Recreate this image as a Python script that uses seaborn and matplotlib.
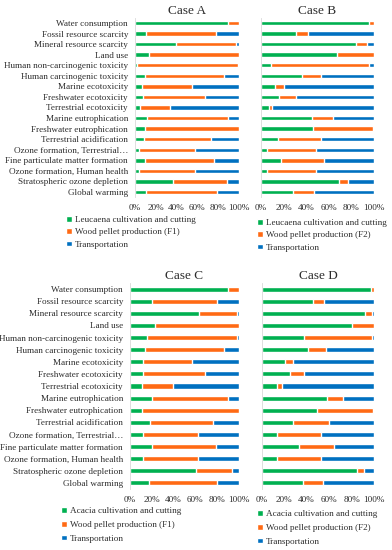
import matplotlib

matplotlib.use("Agg")

import matplotlib.pyplot as plt
import pandas as pd
import seaborn as sns
from matplotlib.patches import Patch


FIG_W, FIG_H = 392, 550
OUTPUT_PATH = "out.png"

GREEN = "#00B050"
ORANGE = "#FF6A14"
BLUE = "#0070C0"
TEXT_COLOR = "#2b2b2b"

CATEGORIES = [
    "Water consumption",
    "Fossil resource scarcity",
    "Mineral resource scarcity",
    "Land use",
    "Human non-carcinogenic toxicity",
    "Human carcinogenic toxicity",
    "Marine ecotoxicity",
    "Freshwater ecotoxicity",
    "Terrestrial ecotoxicity",
    "Marine eutrophication",
    "Freshwater eutrophication",
    "Terrestrial acidification",
    "Ozone formation, Terrestrial\u2026",
    "Fine particulate matter formation",
    "Ozone formation, Human health",
    "Stratospheric ozone depletion",
    "Global warming",
]

# shares in % (cultivation, pellet production, transportation)
A_CULTIVATION = [89, 11, 39, 13, 2, 10, 7, 8, 5, 12, 10, 9, 4, 10, 4, 37, 11]
A_PELLET = [11, 67, 58, 87, 97, 76, 48, 59, 29, 77, 90, 64, 54, 66, 54, 51, 68]
A_TRANSPORT = [0, 22, 3, 0, 1, 14, 45, 33, 66, 11, 0, 27, 42, 24, 42, 12, 21]

B_CULTIVATION = [96, 31, 84, 67, 9, 36, 12, 16, 7, 45, 46, 15, 5, 18, 5, 69, 28]
B_PELLET = [4, 11, 10, 33, 87, 17, 8, 15, 3, 19, 53, 38, 44, 38, 44, 8, 19]
B_TRANSPORT = [0, 58, 6, 0, 4, 47, 80, 69, 90, 36, 1, 47, 51, 44, 51, 23, 53]

C_CULTIVATION = [90, 20, 63, 23, 16, 14, 12, 12, 11, 20, 11, 18, 12, 20, 12, 61, 17]
C_PELLET = [10, 60, 35, 77, 82, 72, 45, 57, 28, 70, 89, 58, 50, 59, 50, 33, 63]
C_TRANSPORT = [0, 20, 2, 0, 2, 14, 43, 31, 61, 10, 0, 24, 38, 21, 38, 6, 20]

D_CULTIVATION = [97, 46, 92, 80, 38, 41, 21, 25, 14, 58, 49, 28, 14, 33, 14, 85, 37]
D_PELLET = [3, 9, 6, 20, 60, 16, 7, 13, 4, 14, 50, 32, 39, 31, 39, 6, 17]
D_TRANSPORT = [0, 45, 2, 0, 2, 43, 72, 62, 82, 28, 1, 40, 47, 36, 47, 9, 46]

X_TICKS = [0, 20, 40, 60, 80, 100]

LEGEND_A = ["Leucaena cultivation and cutting", "Wood pellet production (F1)", "Transportation"]
LEGEND_B = ["Leucaena cultivation and cutting", "Wood pellet production (F2)", "Transportation"]
LEGEND_C = ["Acacia cultivation and cutting", "Wood pellet production (F1)", "Transportation"]
LEGEND_D = ["Acacia cultivation and cutting", "Wood pellet production (F2)", "Transportation"]


def px_box(left, right, top, bottom):
    return [left / FIG_W, 1 - bottom / FIG_H, (right - left) / FIG_W, (bottom - top) / FIG_H]


def draw_case(fig, box, title, cultivation, pellet, transport, legend_labels,
              legend_xy, show_labels, row_gap):
    ax = fig.add_axes(box)
    df = pd.DataFrame(
        {
            "category": CATEGORIES,
            "cultivation": cultivation,
            "pellet": pellet,
            "transport": transport,
        }
    )
    df["upto_pellet"] = df["cultivation"] + df["pellet"]
    df["total"] = df["upto_pellet"] + df["transport"]

    for col, color in [("total", BLUE), ("upto_pellet", ORANGE), ("cultivation", GREEN)]:
        sns.barplot(data=df, x=col, y="category", color=color, width=0.42,
                    saturation=1, ax=ax, orient="h")

    ax.set_xlim(0, 100)
    ax.set_xticks(X_TICKS)
    ax.set_xticklabels([f"{v}%" for v in X_TICKS])
    ax.set_xlabel("")
    ax.set_ylabel("")
    ax.tick_params(length=0, labelsize=6.6, colors=TEXT_COLOR, pad=5)
    if not show_labels:
        ax.set_yticklabels([])
    for side in ["top", "right", "bottom"]:
        ax.spines[side].set_visible(False)
    ax.spines["left"].set_color("#d9d9d9")
    ax.spines["left"].set_linewidth(0.6)
    ax.set_title(title, fontsize=9.5, color=TEXT_COLOR, pad=3)

    handles = [
        Patch(facecolor=GREEN, label=legend_labels[0]),
        Patch(facecolor=ORANGE, label=legend_labels[1]),
        Patch(facecolor=BLUE, label=legend_labels[2]),
    ]
    ax.legend(
        handles=handles,
        loc="upper left",
        bbox_to_anchor=(legend_xy[0] / FIG_W, 1 - legend_xy[1] / FIG_H),
        bbox_transform=fig.transFigure,
        frameon=False,
        fontsize=6.6,
        labelcolor=TEXT_COLOR,
        handlelength=0.6,
        handleheight=0.6,
        handletextpad=0.4,
        borderpad=0,
        borderaxespad=0,
        labelspacing=row_gap,
    )
    return ax


def main():
    sns.set_style("white")
    plt.rcParams["font.family"] = ["Liberation Serif", "DejaVu Serif"]

    fig = plt.figure(figsize=(FIG_W / 100, FIG_H / 100), dpi=100)

    draw_case(fig, px_box(135, 239, 17.7, 197.3), "Case A",
              A_CULTIVATION, A_PELLET, A_TRANSPORT, LEGEND_A, (66, 216), True, 0.45)
    draw_case(fig, px_box(261, 374, 17.7, 197.3), "Case B",
              B_CULTIVATION, B_PELLET, B_TRANSPORT, LEGEND_B, (257, 219), False, 0.45)
    draw_case(fig, px_box(130, 239, 283, 489), "Case C",
              C_CULTIVATION, C_PELLET, C_TRANSPORT, LEGEND_C, (61, 507), True, 0.62)
    draw_case(fig, px_box(261.7, 374.3, 283, 489), "Case D",
              D_CULTIVATION, D_PELLET, D_TRANSPORT, LEGEND_D, (257, 510), False, 0.62)

    fig.savefig(OUTPUT_PATH, dpi=100)
    plt.close(fig)


if __name__ == "__main__":
    main()
